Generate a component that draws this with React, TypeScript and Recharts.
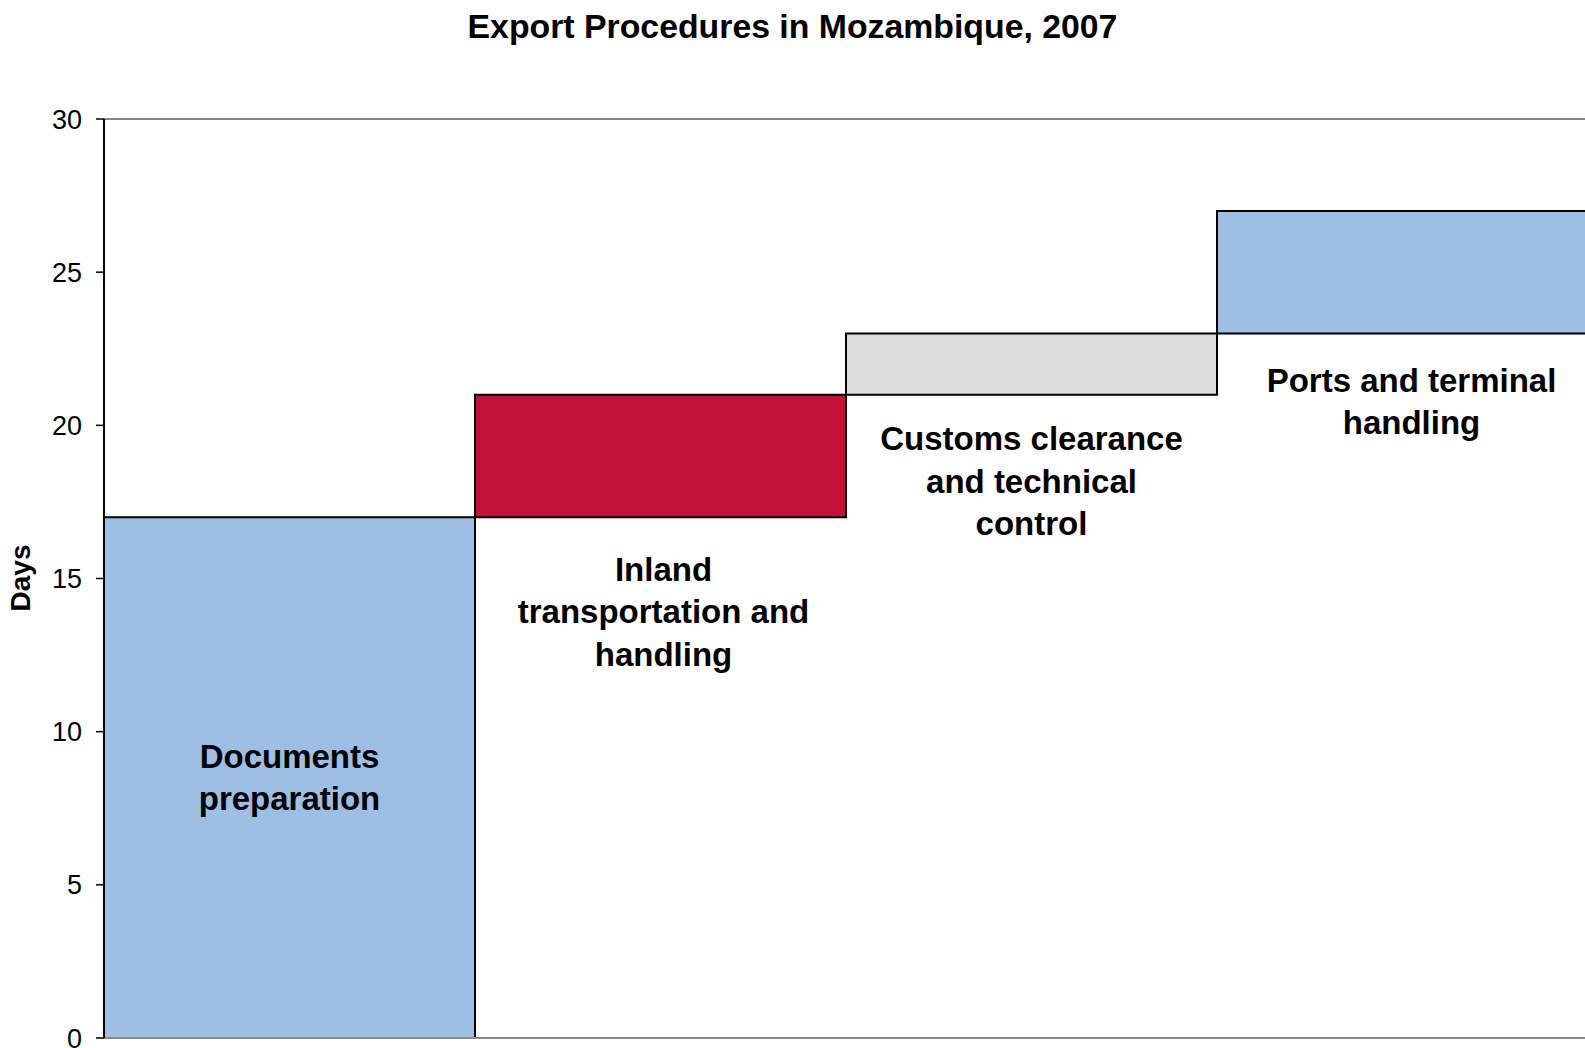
import React from 'react';
import { BarChart, Bar, XAxis, YAxis, Cell, LabelList, ReferenceLine } from 'recharts';

const categories = ['Documents preparation', 'Inland transportation and handling', 'Customs clearance and technical control', 'Ports and terminal handling'];
const baseValues = [0, 17, 21, 23];
const durationValues = [17, 4, 2, 4];
const barColors = ['#9DBFE5', '#C2123A', '#DCDCDC', '#9DBFE5'];
const labelLines = [
  ['Documents', 'preparation'],
  ['Inland', 'transportation and', 'handling'],
  ['Customs clearance', 'and technical', 'control'],
  ['Ports and terminal', 'handling'],
];
const yTicks = [0, 5, 10, 15, 20, 25, 30];

const data = categories.map((name, i) => ({ name, base: baseValues[i], days: durationValues[i] }));

const FONT = '"Liberation Sans", Arial, Helvetica, sans-serif';

const StepLabel = (props: any) => {
  const { x, y, width, height, index } = props;
  const lines = labelLines[index] || [];
  const lh = 42.5;
  const cx = x + width / 2 + (index === 3 ? 9 : index === 1 ? 3 : 0);
  let firstCenter: number;
  if (index === 0) {
    firstCenter = y + height / 2 - ((lines.length - 1) * lh) / 2;
  } else {
    const offs = [0, 52, 44, 47];
    firstCenter = y + height + offs[index];
  }
  return (
    <text x={cx} textAnchor="middle" fontFamily={FONT} fontWeight="bold" fontSize={33} fill="#000">
      {lines.map((l, i) => (
        <tspan key={i} x={cx} y={firstCenter + i * lh} dy="0.35em">{l}</tspan>
      ))}
    </text>
  );
};

export default function App() {
  return (
    <div style={{ position: 'absolute', left: 0, top: 0, width: 1585, height: 1048, overflow: 'hidden', background: '#fff' }}>
      <div style={{ position: 'absolute', left: 0, top: 7, width: 1585, textAlign: 'center', fontFamily: FONT, fontWeight: 'bold', fontSize: 33.8, lineHeight: '38px', color: '#000' }}>
        Export Procedures in Mozambique, 2007
      </div>
      <div style={{ position: 'absolute', left: 0, top: 0 }}>
        <BarChart width={1588} height={1048} data={data} margin={{ top: 119, right: 0, bottom: 9, left: 44 }} barCategoryGap={0}>
          <XAxis dataKey="name" height={1} tick={false} tickLine={false} axisLine={{ stroke: '#888888', strokeWidth: 2 }} />
          <YAxis
            width={60}
            domain={[0, 30]}
            ticks={yTicks}
            interval={0}
            tickSize={8}
            tickMargin={14}
            axisLine={{ stroke: '#000', strokeWidth: 2 }}
            tickLine={{ stroke: '#000', strokeWidth: 1.5 }}
            tick={{ fill: '#000', fontSize: 27, fontFamily: FONT }}
          />
          <ReferenceLine y={30} stroke="#888888" strokeWidth={2} />
          <Bar dataKey="base" stackId="a" fill="transparent" isAnimationActive={false} />
          <Bar dataKey="days" stackId="a" isAnimationActive={false} stroke="#000" strokeWidth={2}>
            {data.map((d, i) => (
              <Cell key={d.name} fill={barColors[i]} stroke="#000" strokeWidth={2} />
            ))}
            <LabelList dataKey="days" content={StepLabel} />
          </Bar>
        </BarChart>
      </div>
      <svg style={{ position: 'absolute', left: 0, top: 0 }} width={60} height={1048}>
        <text transform="translate(30,578) rotate(-90)" textAnchor="middle" fontFamily={FONT} fontWeight="bold" fontSize={28} fill="#000">Days</text>
      </svg>
    </div>
  );
}
